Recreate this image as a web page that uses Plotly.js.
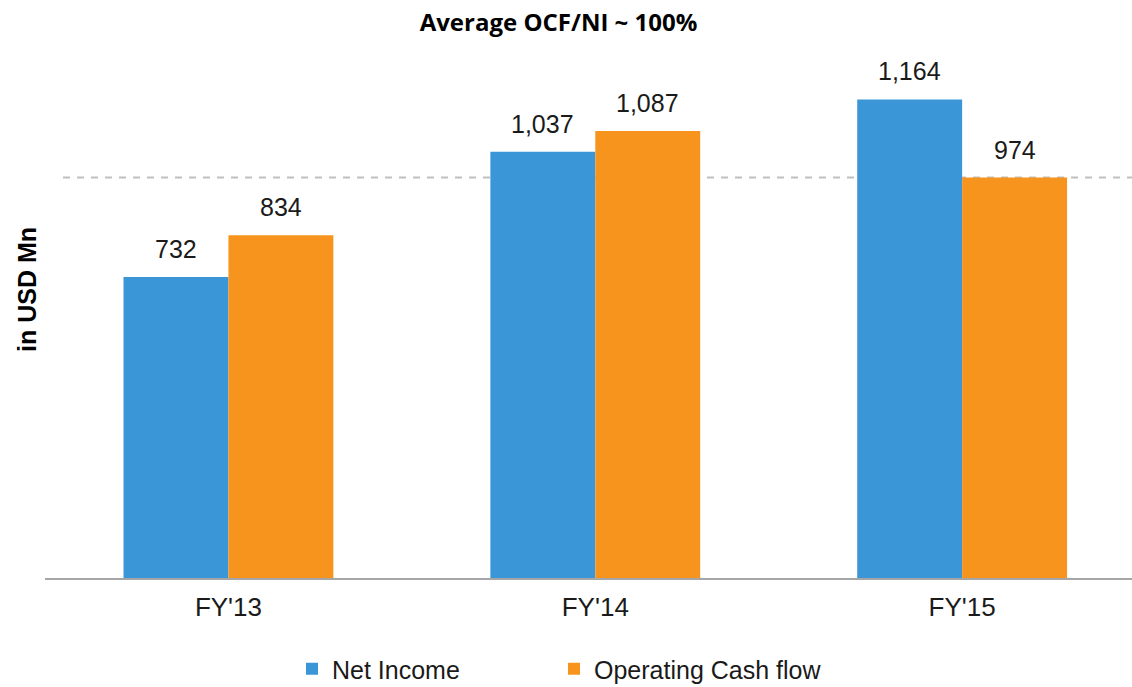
<!DOCTYPE html>
<html>
<head>
<meta charset="utf-8">
<script src="https://cdn.plot.ly/plotly-3.0.1.min.js"></script>
<style>html,body{margin:0;padding:0;background:#fff;}#chart{width:1132px;height:687px;}</style>
</head>
<body>
<div id="chart"></div>
<script>
const categories = ["FY'13", "FY'14", "FY'15"];
const netIncome = [732, 1037, 1164];
const operatingCashFlow = [834, 1087, 974];
const seriesNames = ["Net Income", "Operating Cash flow"];
const referenceLevel = 974;
const chartTitle = "Average OCF/NI ~ 100%";
const yTitle = "in USD Mn";

const colors = ["#3a96d6", "#f7941d"];
const legendIds = ['legend', 'legend2'];
const fmt = v => v.toLocaleString('en-US');
const arial = 'Liberation Sans, Arial, sans-serif';

const traces = [netIncome, operatingCashFlow].map((vals, i) => ({
  type: 'bar', x: categories, y: vals, name: seriesNames[i],
  marker: {color: colors[i], line: {width: 0}},
  legend: legendIds[i],
  hoverinfo: 'skip'
}));

const annotations = [];
[netIncome, operatingCashFlow].forEach((vals, i) => {
  vals.forEach((v, j) => {
    annotations.push({
      x: categories[j], y: v, xref: 'x', yref: 'y',
      text: fmt(v), showarrow: false,
      xshift: i === 0 ? -52.5 : 52.5, yshift: 28,
      font: {family: arial, size: 25, color: '#1a1a1a'}
    });
  });
});
annotations.push({
  xref: 'paper', yref: 'paper', x: -0.0166, y: 0.558,
  text: '<b>' + yTitle + '</b>', textangle: -90, showarrow: false,
  xanchor: 'center', yanchor: 'middle',
  font: {family: arial, size: 25, color: '#000'}
});

const legendBase = {
  orientation: 'h', xref: 'container', yref: 'container', xanchor: 'left',
  y: 1 - 669/687, yanchor: 'middle', itemwidth: 30,
  font: {family: arial, size: 25, color: '#1a1a1a'},
  bgcolor: 'rgba(0,0,0,0)'
};

const layout = {
  width: 1132, height: 687,
  margin: {l: 45, r: 0, t: 60, b: 109, autoexpand: false},
  paper_bgcolor: '#fff', plot_bgcolor: '#fff',
  barmode: 'group', bargap: 0.428, bargroupgap: 0,
  title: {text: '<b>' + chartTitle + '</b>', x: 558.5/1132, xref: 'container', xanchor: 'center',
          y: 1 - 23/687, yanchor: 'middle',
          font: {family: 'Open Sans, sans-serif', size: 24, color: '#000'}},
  xaxis: {
    range: [-0.5, 2.463], showgrid: false, zeroline: false, automargin: false,
    showline: true, linecolor: '#a6a6a6', linewidth: 2,
    ticks: 'outside', ticklen: 0, ticklabelstandoff: 5,
    tickfont: {family: arial, size: 26, color: '#1a1a1a'},
    fixedrange: true
  },
  yaxis: {
    range: [0, 1260], showgrid: false, zeroline: false, showline: false, automargin: false,
    showticklabels: false, ticks: '', fixedrange: true
  },
  shapes: [{
    type: 'line', xref: 'paper', yref: 'y', x0: 18/1087, x1: 1, y0: referenceLevel, y1: referenceLevel,
    line: {color: '#bfbfbf', width: 2, dash: '7px,7px'}, layer: 'below'
  }],
  annotations: annotations,
  showlegend: true,
  legend: Object.assign({}, legendBase, {x: 292/1132}),
  legend2: Object.assign({}, legendBase, {x: 554/1132})
};

Plotly.newPlot('chart', traces, layout, {displayModeBar: false, staticPlot: true});
</script>
</body>
</html>
